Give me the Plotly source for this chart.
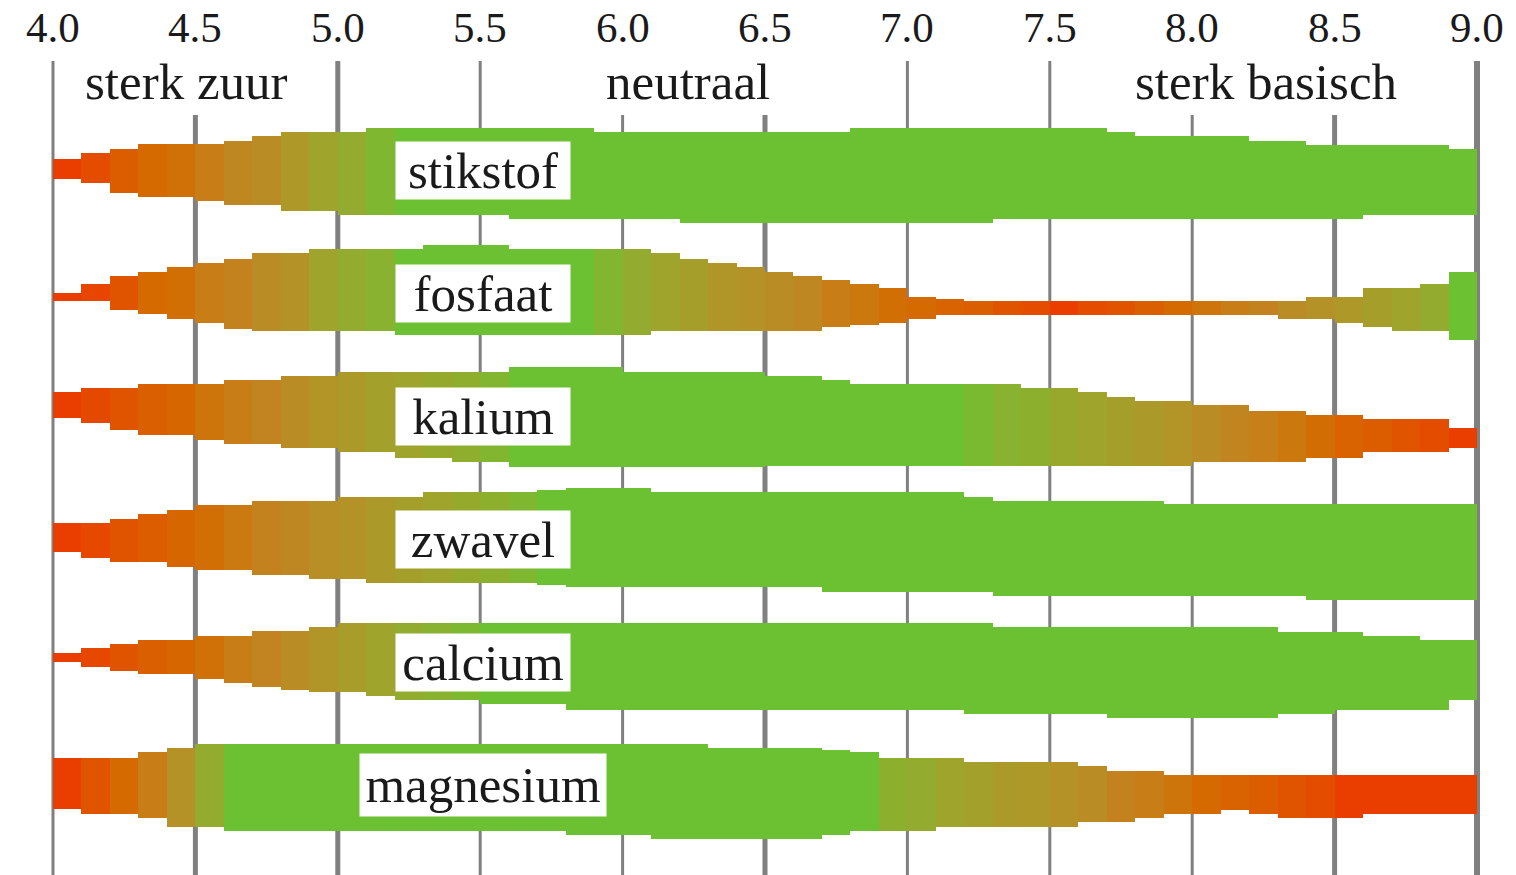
import numpy as np
import plotly.graph_objects as go

# ---------------- data ----------------
nutrients = ["stikstof", "fosfaat", "kalium", "zwavel", "calcium", "magnesium"]

tick_values = [4.0, 4.5, 5.0, 5.5, 6.0, 6.5, 7.0, 7.5, 8.0, 8.5, 9.0]
tick_labels = ["4.0", "4.5", "5.0", "5.5", "6.0", "6.5", "7.0", "7.5", "8.0", "8.5", "9.0"]

zone_labels = ["sterk zuur", "neutraal", "sterk basisch"]
zone_ph = [4.47, 6.23, 8.26]

# pH bins of 0.1 from 4.0 to 9.0 (bin centres)
ph_bins = np.round(np.arange(4.05, 9.0, 0.1), 2)

# band upper / lower edge depth within each nutrient row, and availability colour (0 = poor, 1 = good)
stikstof_top = [49,43,39,34,34,34,31,26,22,22, 22,18,18,18,18,18,18,18,18,22, 22,22,22,22,22,22,22,22,18,18,
                18,18,18,18,18,18,18,22,26,26, 26,26,31,31,35,35,35,35,35,39]
stikstof_bot = [69,73,83,87,87,91,95,95,101,101, 105,105,105,105,105,105,109,109,109,109, 109,109,113,113,113,113,113,113,113,113,
                113,113,113,109,109,109,109,109,109,109, 109,109,109,109,109,109,105,105,105,105]
stikstof_col = [0.00,0.10,0.20,0.30,0.35,0.45,0.55,0.60,0.70,0.80, 0.85,0.93,1,1,1,1,1,1,1,1, 1,1,1,1,1,1,1,1,1,1,
                1,1,1,1,1,1,1,1,1,1, 1,1,1,1,1,1,1,1,1,1]

fosfaat_top = [60,51,43,39,34,30,26,20,20,16, 16,16,16,12,12,12,16,16,16,16, 16,20,26,30,34,39,43,47,51,55,
               64,66,68,68,68,68,68,68,68,68, 68,68,68,68,64,64,55,55,51,39]
fosfaat_bot = [68,68,77,81,86,90,96,98,98,98, 98,98,102,102,102,102,102,102,102,102, 102,98,98,98,98,98,98,94,92,90,
               86,82,82,82,82,82,82,82,82,82, 82,82,82,86,86,90,94,98,98,107]
fosfaat_col = [0.00,0.05,0.15,0.30,0.33,0.45,0.50,0.60,0.65,0.80, 0.85,0.90,1,1,1,1,1,1,1,0.92,
               0.85,0.80,0.75,0.68,0.65,0.60,0.55,0.45,0.40,0.33, 0.30,0.25,0.22,0.15,0.10,0.00,0.10,0.15,0.22,0.30,
               0.38,0.45,0.50,0.60,0.65,0.70,0.75,0.80,0.85,1.00]

kalium_top = [36,32,32,28,28,28,24,24,20,20, 16,16,16,16,16,16,11,11,11,11, 16,16,16,16,16,20,20,24,28,28,
              28,28,28,28,32,32,36,41,45,45, 49,49,55,55,59,59,63,63,63,72]
kalium_bot = [62,67,74,79,79,84,88,88,92,92, 96,96,102,102,106,106,111,111,111,111, 111,111,111,111,111,110,110,110,110,110,
              110,110,110,110,110,110,110,110,110,110, 106,106,106,106,102,102,96,96,96,92]
kalium_col = [0.00,0.08,0.15,0.22,0.27,0.38,0.45,0.52,0.60,0.67, 0.72,0.77,0.80,0.84,0.87,0.92,1,1,1,1,
              1,1,1,1,1,1,1,1,1,1, 1,1,0.95,0.90,0.88,0.83,0.80,0.75,0.72,0.67,
              0.60,0.53,0.47,0.40,0.32,0.25,0.20,0.15,0.10,0.00]

zwavel_top = [44,44,40,35,31,26,26,22,22,22, 18,18,18,13,13,13,13,11,9,9, 9,13,13,13,13,13,13,13,13,13,
              13,13,18,22,22,22,22,22,22,25, 25,25,25,25,25,25,25,25,25,25]
zwavel_bot = [73,79,83,83,88,91,91,96,96,100, 100,104,104,104,104,104,104,106,108,108, 108,108,108,108,108,108,108,113,113,113,
              113,113,113,117,117,117,117,117,117,117, 117,117,117,117,121,121,121,121,121,121]
zwavel_col = [0.00,0.07,0.15,0.20,0.27,0.33,0.42,0.50,0.55,0.62, 0.66,0.72,0.76,0.80,0.84,0.88,0.93,1,1,1,
              1,1,1,1,1,1,1,1,1,1, 1,1,1,1,1,1,1,1,1,1, 1,1,1,1,1,1,1,1,1,1]

calcium_top = [51,46,42,38,38,34,34,29,29,25, 21,21,21,21,21,21,21,21,21,21, 21,21,21,21,21,21,21,21,21,21,
               21,21,21,25,25,25,25,25,25,25, 25,25,25,30,30,30,34,34,38,38]
calcium_bot = [60,65,69,72,72,77,81,85,88,90, 90,94,98,98,98,102,102,102,108,108, 108,108,108,108,108,108,108,108,108,108,
               108,108,112,112,112,112,112,116,116,116, 116,116,116,112,112,108,108,108,108,98]
calcium_col = [0.00,0.07,0.15,0.22,0.27,0.35,0.45,0.52,0.60,0.68, 0.74,0.80,0.86,0.90,0.94,1,1,1,1,1,
               1,1,1,1,1,1,1,1,1,1, 1,1,1,1,1,1,1,1,1,1, 1,1,1,1,1,1,1,1,1,1]

magnesium_top = [33,33,33,27,23,19,19,19,19,19, 19,19,19,19,19,19,19,19,19,19, 19,19,19,23,23,23,23,25,27,33,
                 33,33,37,37,37,37,41,46,46,50, 50,50,50,50,50,50,50,50,50,50]
magnesium_bot = [84,89,89,93,102,102,106,106,106,106, 106,106,106,106,106,106,106,106,110,110, 110,114,114,114,114,114,114,110,106,106,
                 106,102,102,102,102,102,97,97,93,89, 89,85,89,93,93,93,89,89,89,89]
magnesium_col = [0.00,0.15,0.30,0.45,0.65,0.85,1,1,1,1, 1,1,1,1,1,1,1,1,1,1, 1,1,1,1,1,1,1,1,1,0.88,
                 0.85,0.80,0.77,0.72,0.70,0.65,0.60,0.50,0.45,0.38, 0.30,0.25,0.20,0.15,0.10,0.00,0.00,0.00,0.00,0.00]

tops = [stikstof_top, fosfaat_top, kalium_top, zwavel_top, calcium_top, magnesium_top]
bots = [stikstof_bot, fosfaat_bot, kalium_bot, zwavel_bot, calcium_bot, magnesium_bot]
cols = [stikstof_col, fosfaat_col, kalium_col, zwavel_col, calcium_col, magnesium_col]

# ---------------- style ----------------
FONT = "Liberation Serif"
TEXT = "#1a1a1a"
GRID = "#808080"
ROW0, ROW_STEP = 110, 123
colorscale = [
    [0.0, "#EA3D00"], [0.1, "#E44C00"], [0.2, "#DC5C00"], [0.3, "#D46A00"],
    [0.4, "#CB780E"], [0.5, "#C4821E"], [0.6, "#BA8C26"], [0.7, "#AE9828"],
    [0.8, "#9EA42C"], [0.9, "#88B22F"], [1.0, "#6CC133"],
]
thick_lines = {4.5, 5.0, 6.5, 8.5, 9.0}
long_lines = {4.0, 5.0, 5.5, 7.0, 7.5, 9.0}

W, H = 1516, 875
PX_PER_PH = 284.8
X_LEFT = 4.0 - 53 / PX_PER_PH
X_RIGHT = X_LEFT + W / PX_PER_PH

fig = go.Figure()

for i, name in enumerate(nutrients):
    base_row = ROW0 + ROW_STEP * i
    t = np.array(tops[i], dtype=float)
    b = np.array(bots[i], dtype=float)
    fig.add_trace(go.Bar(
        x=ph_bins, base=base_row + t, y=b - t, width=0.1,
        marker=dict(color=cols[i], colorscale=colorscale, cmin=0, cmax=1, line=dict(width=0)),
        name=name, showlegend=False, hoverinfo="skip",
    ))

# vertical guide lines
for v in tick_values:
    fig.add_shape(
        type="line", xref="x", yref="y", x0=v, x1=v,
        y0=61 if v in long_lines else 115, y1=H,
        line=dict(color=GRID, width=6 if v == 9.0 else (5 if v in thick_lines else 3)),
        layer="below",
    )

annotations = []
for v, lab in zip(tick_values, tick_labels):
    annotations.append(dict(x=v, y=27, xref="x", yref="y", text=lab, showarrow=False,
                            borderpad=0, font=dict(family=FONT, size=43, color=TEXT)))
for v, lab in zip(zone_ph, zone_labels):
    annotations.append(dict(x=v, y=82, xref="x", yref="y", text=lab, showarrow=False,
                            font=dict(family=FONT, size=51, color=TEXT)))
for i, name in enumerate(nutrients):
    wide = len(name) > 8
    annotations.append(dict(
        x=5.51, y=ROW0 + ROW_STEP * i + 60, xref="x", yref="y", text=name, showarrow=False,
        width=244 if wide else 172, height=60 if wide else 55, bgcolor="white",
        font=dict(family=FONT, size=51, color=TEXT), align="center", valign="middle",
    ))

fig.update_layout(
    width=W, height=H,
    margin=dict(l=0, r=0, t=0, b=0),
    paper_bgcolor="white", plot_bgcolor="white",
    barmode="overlay", bargap=0,
    xaxis=dict(range=[X_LEFT, X_RIGHT], visible=False, fixedrange=True),
    yaxis=dict(range=[H, 0], visible=False, fixedrange=True),
    annotations=annotations,
    showlegend=False,
)

# remove the default page margin so the figure fills the window exactly
fig.write_html(
    "out.html",
    config={"displayModeBar": False, "staticPlot": True},
    post_script="document.body.style.margin='0';document.body.style.overflow='hidden';",
)
